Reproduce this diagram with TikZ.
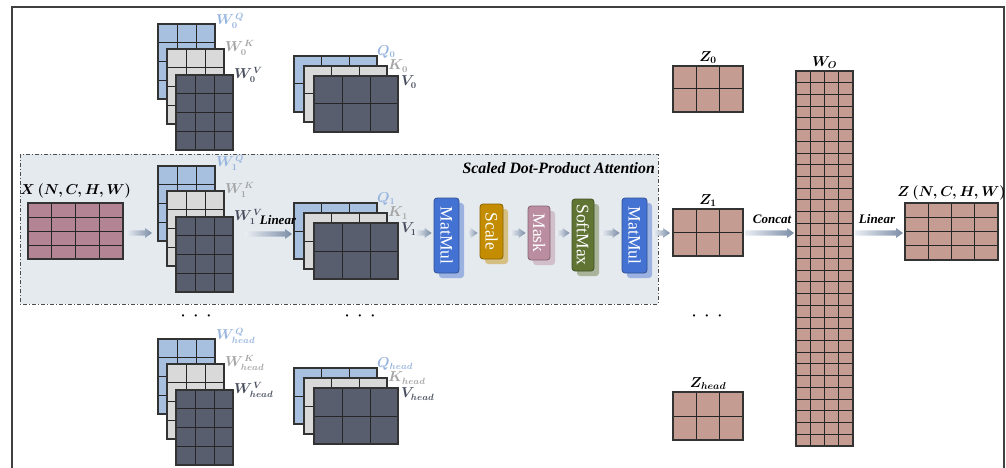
\documentclass[tikz,border=0pt]{standalone}
\usepackage{fontspec}
\setmainfont{Liberation Serif}
\usetikzlibrary{calc,shadows}

\definecolor{qblue}{RGB}{168,192,224}
\definecolor{kgray}{RGB}{217,217,217}
\definecolor{vdark}{RGB}{88,94,110}
\definecolor{xmauve}{RGB}{178,132,148}
\definecolor{zrose}{RGB}{196,156,146}
\definecolor{boxbg}{RGB}{229,234,239}
\definecolor{qlabel}{RGB}{150,180,222}
\definecolor{klabel}{RGB}{165,165,165}
\definecolor{vlabel}{RGB}{72,78,94}
\definecolor{mmblue}{RGB}{68,114,210}
\definecolor{scalegold}{RGB}{196,140,0}
\definecolor{maskpink}{RGB}{186,142,160}
\definecolor{smgreen}{RGB}{96,116,52}
\definecolor{flowA}{RGB}{234,238,243}
\definecolor{flowB}{RGB}{122,140,166}

\tikzset{
	mat/.style={draw=black!80, line width=1.1pt, inner sep=0pt, outer sep=0pt},
	cell/.style={draw=black!85, line width=1pt},
	op/.style={draw=#1!70!black, fill=#1, rounded corners=3pt, line width=0.8pt,
		inner sep=0pt, text=white, font=\fontsize{17.5}{18}\selectfont,
		drop shadow={fill=#1, opacity=0.45, shadow xshift=5pt, shadow yshift=-5pt}},
	lbl/.style={inner sep=0pt, font=\fontsize{13.5}{15}\selectfont\boldmath},
	big/.style={inner sep=0pt, font=\fontsize{14}{16}\selectfont\boldmath},
	arrlbl/.style={inner sep=0pt, font=\fontsize{13}{15}\selectfont\bfseries\itshape},
}

% matrix of cells: name, left, top, width, height, cols, rows, fill
\newcommand{\cellmat}[8]{%
	\node[mat, fill=#8, minimum width=#4pt, minimum height=#5pt] (#1) at (#2+#4/2, #3+#5/2) {};
	\pgfmathtruncatemacro\nc{#6-1}
	\pgfmathtruncatemacro\nr{#7-1}
	\foreach \i in {1,...,\nc}
		\draw[cell] ($(#1.north west)!\i/#6!(#1.north east)$) -- ($(#1.south west)!\i/#6!(#1.south east)$);
	\foreach \j in {1,...,\nr}
		\draw[cell] ($(#1.north west)!\j/#7!(#1.south west)$) -- ($(#1.north east)!\j/#7!(#1.south east)$);
	\node[mat, minimum width=#4pt, minimum height=#5pt] at (#1) {};
}

% weight stack W^Q, W^K, W^V: prefix, top, index
\newcommand{\wstack}[3]{%
	\cellmat{#1q}{158}{#2}{57}{75}{3}{4}{qblue}
	\cellmat{#1k}{167}{#2+25}{57}{75}{3}{4}{kgray}
	\cellmat{#1v}{176}{#2+51}{57}{75}{3}{4}{vdark}
	\node[lbl, anchor=west, text=qlabel] at ($(#1q.north east)+(1,-3)$) {$W^{\mkern2mu Q}_{#3}$};
	\node[lbl, anchor=west, text=klabel] at ($(#1k.north east)+(1,-1)$) {$W^{\mkern2mu K}_{#3}$};
	\node[lbl, anchor=west, text=vlabel] at ($(#1v.north east)+(1,0)$) {$W^{\mkern2mu V}_{#3}$};
}

% Q, K, V stack: prefix, top, index
\newcommand{\qkvstack}[3]{%
	\cellmat{#1q}{294}{#2}{83}{56}{3}{2}{qblue}
	\cellmat{#1k}{304}{#2+10}{83}{56}{3}{2}{kgray}
	\cellmat{#1v}{314}{#2+20}{84}{56}{3}{2}{vdark}
	\node[lbl, anchor=west, text=qlabel] at ($(#1q.north east)+(0,-4)$) {$Q_{#3}$};
	\node[lbl, anchor=west, text=klabel] at ($(#1k.north east)+(1,0)$) {$K_{#3}$};
	\node[lbl, anchor=west, text=vlabel] at ($(#1v.north east)+(3,6)$) {$V_{#3}$};
}

% faded block arrow between two points
\newcommand{\flow}[2]{%
	\shade[left color=flowA, right color=flowB]
		let \p1=#1, \p2=#2 in
		(\x1,\y1+2.6pt) -- (\x2-7pt,\y1+2.6pt) -- (\x2-7pt,\y1+5pt) -- (\x2,\y1)
		-- (\x2-7pt,\y1-5pt) -- (\x2-7pt,\y1-2.6pt) -- (\x1,\y1-2.6pt) -- cycle;}

\begin{document}
\begin{tikzpicture}[x=1pt, y=-1pt]
	\useasboundingbox (0,0) rectangle (1006,468);
	\clip (0,0) rectangle (1006,468);
	\draw[line width=1.8pt, black!75] (12,7) rectangle (1004,490);

	% attention block
	\draw[fill=boxbg, draw=black!70, line width=1pt, dash pattern=on 4pt off 2pt on 1pt off 2pt]
		(20,154) rectangle (658,304);
	\node[anchor=east, inner sep=0pt, font=\fontsize{15.8}{17}\selectfont\bfseries\itshape] (title) at (655,168) {Scaled Dot-Product Attention};
	\coordinate (axis) at (0,233);

	% input
	\cellmat{xmat}{28}{203}{95}{56}{4}{4}{xmauve}
	\node[big, anchor=south] at ($(xmat.north)+(0,-5)$) {$X\,(N,C,H,W)$};

	% heads
	\wstack{w0}{24}{0}
	\wstack{w1}{166}{1}
	\wstack{wh}{339}{head}
	\qkvstack{s0}{56}{0}
	\qkvstack{s1}{203}{1}
	\qkvstack{sh}{368}{head}

	\node[big] (dotsw) at (196,316) {$\cdot\;\cdot\;\cdot$};
	\node[big] (dotsq) at (360,316) {$\cdot\;\cdot\;\cdot$};
	\node[big] (dotsz) at (707,316) {$\cdot\;\cdot\;\cdot$};

	% attention operations
	\node[op=mmblue, minimum width=25pt, minimum height=75pt] (mm1) at (446.5,235.5) {\rotatebox{-90}{MatMul}};
	\node[op=scalegold, minimum width=23pt, minimum height=55pt] (scale) at (491.5,231.5) {\rotatebox{-90}{Scale}};
	\node[op=maskpink, minimum width=22pt, minimum height=54pt] (mask) at (539,233) {\rotatebox{-90}{Mask}};
	\node[op=smgreen, minimum width=22pt, minimum height=72pt] (soft) at (583,235) {\rotatebox{-90}{SoftMax}};
	\node[op=mmblue, minimum width=25pt, minimum height=75pt] (mm2) at (634.5,235.5) {\rotatebox{-90}{MatMul}};

	% head outputs
	\cellmat{z0}{673}{66}{70}{46}{3}{2}{zrose}
	\cellmat{z1}{673}{209}{70}{47}{3}{2}{zrose}
	\cellmat{zh}{673}{392}{70}{48}{3}{2}{zrose}
	\node[big, anchor=south] at ($(z0.north)+(0,-2)$) {$Z_0$};
	\node[big, anchor=south] at ($(z1.north)+(0,-2)$) {$Z_1$};
	\node[big, anchor=south] at ($(zh.north)+(0,-2)$) {$Z_{head}$};

	% output projection
	\cellmat{wo}{796}{71}{57}{375}{4}{32}{zrose}
	\node[big, anchor=south] at ($(wo.north)+(0,-2)$) {$W_O$};
	\cellmat{zout}{905}{203}{93}{57}{4}{4}{zrose}
	\node[big, anchor=south] at ($(zout.north)+(0,-3)$) {$Z\,(N,C,H,W)$};

	% arrows
	\flow{($(xmat.east|-axis)+(3,0)$)}{($(w1q.west|-axis)+(-6,0)$)}
	\flow{($(w1v.east|-axis)+(12,1)$)}{($(s1q.west|-axis)+(-2,1)$)}
	\node[arrlbl] at (278,220) {Linear};
	\flow{($(s1v.east|-axis)+(17,0)$)}{($(mm1.west|-axis)+(-2,0)$)}
	\flow{($(mm1.east|-axis)+(8,0)$)}{($(scale.west|-axis)+(-2,0)$)}
	\flow{($(scale.east|-axis)+(7,0)$)}{($(mask.west|-axis)+(-2,0)$)}
	\flow{($(mask.east|-axis)+(6,0)$)}{($(soft.west|-axis)+(-2,0)$)}
	\flow{($(soft.east|-axis)+(7,0)$)}{($(mm2.west|-axis)+(-2,0)$)}
	\flow{($(mm2.east|-axis)+(6,0)$)}{($(z1.west|-axis)+(-3,0)$)}
	\flow{($(z1.east|-axis)+(2,0)$)}{($(wo.west|-axis)+(-2,0)$)}
	\node[arrlbl] at (772,219) {Concat};
	\flow{($(wo.east|-axis)+(2,0)$)}{($(zout.west|-axis)+(-2,0)$)}
	\node[arrlbl] at (877,219) {Linear};
\end{tikzpicture}
\end{document}
